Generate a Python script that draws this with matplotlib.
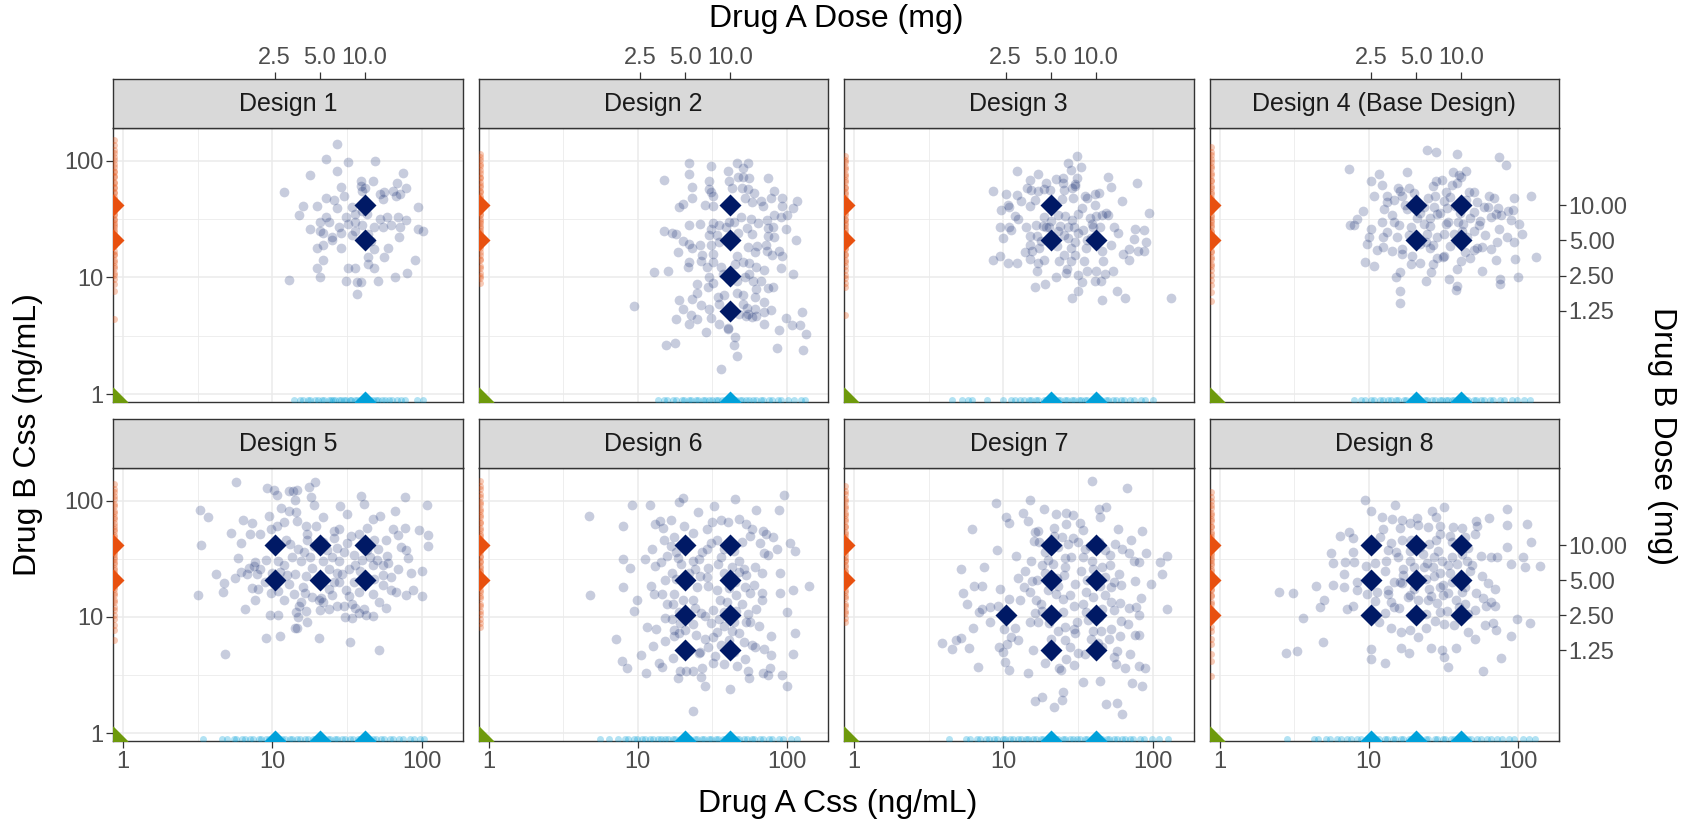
import matplotlib
matplotlib.use("Agg")
import matplotlib.pyplot as plt
from matplotlib.ticker import NullLocator, NullFormatter

plt.rcParams['font.family'] = ['Liberation Sans', 'DejaVu Sans']

designs = ["Design 1", "Design 2", "Design 3", "Design 4 (Base Design)",
           "Design 5", "Design 6", "Design 7", "Design 8"]
css_per_mg = 4.15   # Css (ng/mL) per mg dose (secondary axes)

# combination arms (Drug A mg, Drug B mg)
combo_doses = [
    [(10, 10), (10, 5)],
    [(10, 10), (10, 5), (10, 2.5), (10, 1.25)],
    [(5, 10), (5, 5), (10, 5)],
    [(5, 10), (10, 10), (5, 5), (10, 5)],
    [(2.5, 10), (5, 10), (10, 10), (2.5, 5), (5, 5), (10, 5)],
    [(5, 10), (10, 10), (5, 5), (10, 5), (5, 2.5), (10, 2.5), (5, 1.25), (10, 1.25)],
    [(5, 10), (10, 10), (5, 5), (10, 5), (2.5, 2.5), (5, 2.5), (10, 2.5), (5, 1.25), (10, 1.25)],
    [(2.5, 10), (5, 10), (10, 10), (2.5, 5), (5, 5), (10, 5), (2.5, 2.5), (5, 2.5), (10, 2.5)],
]
mono_a_doses = [[10], [10], [5, 10], [5, 10], [2.5, 5, 10], [5, 10], [5, 10], [2.5, 5, 10]]
mono_b_doses = [[5, 10], [5, 10], [5, 10], [5, 10], [5, 10], [5, 10], [5, 10], [2.5, 5, 10]]

top_dose_ticks = [2.5, 5.0, 10.0]
top_dose_labels = ["2.5", "5.0", "10.0"]
right_dose_ticks = [10.0, 5.0, 2.5, 1.25]
right_dose_labels = ["10.00", "5.00", "2.50", "1.25"]
css_ticks = [1, 10, 100]
css_labels = ["1", "10", "100"]

# observed combination Css (Drug A, Drug B) ng/mL
d1_pts = [(27,139),(23,103),(32,97),(49,99),(27,82),(18,75),(75,78),(39,67),(47,67),(68,65),(29,60),(42,59),(40,55),(56,54),(64,55),(79,59),(12,54),(23,48),(26,46),(30,50),(53,52),(67,50),(20,41),(16,41),(27,39),(34,40),(94,40),(15,34),(23,33),(31,33),(36,35),(43,35),(53,32),(59,33),(69,33),(79,31),(24,30),(21,30),(28,27),(18,26),(21,25),(22,24),(25,22),(29,24),(34,23),(40,28),(48,27),(55,27),(62,28),(72,27),(94,26),(103,25),(71,22),(25,21),(29,18),(22,19),(20,18),(48,17.5),(60,18),(56,15),(44,15),(22,14),(44,13),(91,14),(20,12),(32,12),(36,12),(48,12),(80,11),(21,10),(66,10),(13,9.5),(31,9.3),(37,9.2),(39,9.1),(51,9.4),(37,7.2),(40,37),(36,30),(44,23.5),(36,25),(32,28.5),(46,20.6),(55,47),(72,52),(39,61)]
d2_pts = [(22,95),(31,90),(46,96),(55,95),(51,86),(40,81),(22,77),(15,68),(30,67),(41,67),(47,73),(51,72),(56,71),(74,71),(23,60),(30,57),(31,54),(43,58),(50,59),(55,57),(60,53),(82,55),(23,48),(32,50),(52,48),(58,44),(67,45),(78,48),(92,48),(116,45),(20,43),(19,40),(28,42),(32,41),(69,41),(93,41),(109,39),(100,34),(82,34),(91,33),(73,31),(49,33),(57,32),(64,29),(54,26.5),(44,30),(32,29),(35,28),(39,27),(41,30),(22,28),(26,28.5),(31,26),(15,25),(17,24),(18,23.5),(30,23),(34,23),(47,24),(58,23.5),(74,26.5),(81,27),(99,26),(115,21),(75,22.6),(82,22),(20,20.5),(22,19.4),(23,18),(26,19),(31,19),(35,20),(55,18.3),(63,18.6),(61,16.4),(72,19),(73,17),(88,17),(93,15.4),(79,15.6),(18.5,16.4),(27,15.6),(32,16),(46,15.4),(51,13.5),(56,13.2),(62,12.2),(91,12),(70,11.6),(22,13.6),(21.6,12.2),(26.5,13.9),(29,12.3),(32,13.6),(36,12.3),(45,13),(12.9,11.2),(16,11.3),(30,10),(32,9),(29.5,8.2),(37,10.7),(41,9.7),(46,9.4),(52,10),(56,10.7),(59,9.4),(67,9.4),(62,7.9),(74,8.1),(80,8.2),(110,10.8),(25,8.8),(25,7.3),(23,6.5),(19,6.4),(26.5,5.8),(30,5.35),(34.5,6.75),(35,5.9),(38,7),(46,7.4),(51,7),(61,6.75),(70,6.2),(78,5.25),(61,5.35),(55,4.85),(62,4.7),(70,5.1),(51,5.9),(54,5.5),(9.5,5.7),(20,5.4),(22.7,4.75),(25,4.4),(31,4.5),(35,4),(40,3.7),(45,3.1),(44,2.66),(46,2.14),(58,4.6),(70,4),(88,3.55),(99,4.5),(108,3.9),(122,3.9),(126,5.1),(133,3.25),(128,2.4),(86,2.46),(18,4.4),(22,4),(28.6,3.38),(17.8,2.73),(15.5,2.65),(36,1.65),(40,3.6),(53,4.7),(48,4.85)]
d3_pts = [(31,109),(27,95),(28.5,83),(33,89),(12.3,82),(17,77),(15,69),(22.5,70),(25,71),(25,65),(31,71),(19.4,65),(30,63),(50,73),(79,65),(53,60),(8.5,55),(10.5,52),(12.3,51),(14.4,58),(15.4,56),(17,55),(18.6,57),(20.6,56),(25.6,56),(29,59),(30,61),(35,49.5),(36.5,48),(41,51.5),(43.5,52.5),(62,45),(13.2,45.5),(16.3,46),(24.7,47.4),(29.5,48),(33.5,39),(41,42),(10.8,42),(9.6,38),(10.9,40.5),(15,40.7),(12,33.5),(12.6,31.6),(18.8,33),(23.4,34),(26,33.8),(29,31),(38,32.5),(41.7,33.8),(46,34.4),(49,36),(50.6,34.4),(94,35.8),(9.5,27.3),(10.9,27.3),(11.3,25.7),(14.3,27.3),(16.6,28.2),(18.4,27.5),(19.3,27.1),(24,27.6),(27.3,27.3),(29.8,27.3),(34,25.7),(39.5,28.6),(40,26.8),(44.5,27.3),(55,27.3),(59,23.8),(76.5,26.2),(87,25.4),(9.9,21.6),(15.1,22.8),(15.2,18.9),(16.7,22.5),(17.8,20.5),(25.6,23.2),(27,21.7),(30,20.2),(31.8,23.8),(36.2,21),(38.8,21.6),(53,19.1),(75,21.3),(91,20),(13.9,16.6),(15.6,16.9),(17.4,17.8),(23,18.7),(25.5,15.6),(28.6,18),(35.7,18),(45.8,16.9),(63,15.9),(69.5,17.6),(79.5,16.7),(87.5,16.7),(8.5,14),(9.5,15.3),(10.8,13.2),(12.3,13.2),(15.1,14.5),(17.1,13.3),(18.6,14.1),(23.5,13.7),(26.8,11.8),(28.3,13.7),(30,15.7),(34.8,13.9),(36.5,11.3),(42,11.4),(46.3,13.7),(48,10.7),(54.5,11.3),(70,14.1),(16.7,11.4),(22.5,10),(26.5,10.9),(31.8,10.5),(33.5,9.2),(41,9.4),(45,9.4),(16.2,8.3),(19,8.7),(31.8,7.7),(29,6.6),(46,6.4),(57.5,7.6),(65.5,6.7),(133,6.6),(21,30.5),(23.3,25),(31.8,34.9),(20.2,26.8)]
d4_pts = [(24.7,123),(28,118),(39,115),(75,107),(83,92),(7.4,85),(11.7,77),(18,80),(36.7,80),(40,76),(44.6,82),(41.7,73),(10.3,67),(12.3,62),(15.7,58),(16.1,55),(28,67),(26.8,61),(31,68),(39,65),(10.8,49.5),(13.2,50),(16.6,49.5),(20,53),(24.8,48),(27.8,50),(33,53.5),(35,48.5),(46.8,54),(51,54.5),(64,49.5),(69,48),(93.5,48),(122,50),(9.2,37),(8.4,31.6),(7.5,28),(7.9,28.2),(12.7,38.5),(13.2,44),(14.3,34),(12.2,30),(14.8,30),(16,28),(10.4,26),(10,22),(9.8,19.5),(12.5,22),(13.2,24.3),(11.3,17.3),(12.5,18.4),(14.3,16.7),(16.8,15.9),(16.6,17.4),(18.5,23),(19.3,26.8),(23.3,28.7),(25.8,27.5),(28.6,34.9),(32.7,28.7),(39.3,30),(40.6,35.4),(50.3,36.7),(54.5,28),(62.5,40),(73.5,39),(71,34.9),(76.5,34),(85,37.3),(93,38),(102,28.7),(107,23.5),(84.5,22),(75,25.8),(72,20),(94,20.2),(65.5,17.5),(57,18.3),(53,17.8),(51,17.3),(47.3,14.8),(41.5,13.9),(39,11.8),(31.2,15.1),(31.8,15.4),(28.6,14.8),(25.8,17.9),(24,20),(22,19.3),(19.5,15.4),(22.2,13.2),(19.1,13),(16.2,11.2),(15.2,10.1),(26.2,11.1),(24,9.4),(34.2,9.6),(38.2,7.8),(38.7,8.5),(57.7,11.4),(76,9.7),(76,8.7),(100,10),(132,15.1),(95,14.3),(71.5,14.1),(9.5,13.5),(10.9,12.5),(16.1,7.6),(16.1,6),(30,35.4),(33.5,39.4),(25.8,32.6),(21,32.6),(31.8,23.5),(37,23.5),(45.8,22),(50.7,25),(24.5,23.5),(28.6,22),(15.4,22),(56,30.6),(48,32.6),(43,28.7),(23.3,40),(17.9,38.5),(27.3,40.4),(38,41.2),(59,40),(53,44),(31.8,45.3),(18.5,58),(17.5,42),(36,62),(34,30),(42,25),(35,18.5),(44,16.5),(27,19),(20.5,21),(14.8,46),(66,33),(60,23),(89,31),(27,13),(45,46),(22,36)]
d5_pts = [(5.7,145),(9.2,128),(10.3,123),(10.8,111),(12.9,122),(13.8,120),(14.7,123),(14.1,102),(17.6,132),(19.3,145),(18.2,108),(19,92),(39.4,110),(41,94),(77,108),(108,92),(3.3,83),(3.7,72.5),(6.4,68.5),(7.3,64),(9.5,73.5),(11.5,87),(12.9,82),(14.5,79.5),(28.6,90),(31.5,76.5),(66.7,81),(5.3,52.8),(6.2,43.6),(7.1,51.5),(8.3,51.5),(9.8,57),(10.8,60.5),(12,65.7),(14.7,66.5),(16.8,61),(19.7,61),(21.7,72.5),(26,54.5),(28,57),(47,69.5),(52.6,73.5),(64.6,57.5),(70,50.7),(77.7,58.3),(95.5,56),(110,50.5),(3.35,41.6),(5.9,31.8),(6.8,23.4),(7.5,27.3),(7.7,29.5),(8.3,25.7),(9.1,30.8),(11,30.5),(12.3,46.3),(13.6,32.6),(14.8,38.3),(16.2,36),(31.8,43.6),(35.2,34),(43.3,37.3),(51.4,38),(58.5,33.5),(72.5,40),(78.5,37.8),(81,32.2),(110,40.6),(4.2,23.2),(4.75,19.7),(5.6,21.8),(6.2,24.3),(7,26.2),(7.9,23.5),(11.2,24.3),(12.5,22.9),(14.2,23.5),(16.8,22.6),(18.5,26.5),(23.9,25.7),(27,24),(29.5,23.5),(32.7,26),(38.8,24.6),(47.3,28),(55.5,27.7),(55,23),(100,24.8),(3.2,15.3),(4.7,16.3),(7.3,17.7),(8,17.3),(9.8,16.1),(11,16.8),(12,14.1),(13.9,15.6),(15.6,13.4),(16.6,16),(18.5,14.8),(21.3,14.4),(23.9,11.7),(25.3,15.4),(30,12.3),(32.7,15),(34.2,13),(38.2,10.9),(41.1,11.6),(47,15.8),(55.5,18.7),(62,17.1),(67.7,16.4),(78.5,15.3),(87.5,17.2),(100,15),(6.6,11.6),(7.7,13.9),(9.6,10.3),(11,10.3),(14.5,11),(14.9,9.9),(16.9,11.2),(17.2,9.1),(14.1,8.1),(14.7,8.1),(20.4,13.9),(21.8,13.4),(30.5,10),(34.3,9.7),(47.5,10.1),(42.6,10.3),(9.1,6.6),(11.2,6.8),(20.5,6.6),(33.2,6.1),(52,5.2),(4.85,4.8),(20,20.6),(25.8,20),(35.2,20),(13.2,42.5),(17.1,45.5),(33.5,50),(48,45.5),(23.3,37.3),(15.5,30),(18,33),(22,30),(25,33),(28,30),(30,36),(36,28),(40,31),(45,33),(50,31),(60,29),(22,44),(26,48),(38,52),(43,58),(17,52),(12,28),(10,24),(9,20),(13,19),(16,18),(24,17.5),(28,20),(31,17),(38,16.5),(42,19),(48,21),(62,22),(70,26),(85,24),(19,41),(27,39),(58,46),(15,12.5),(21,11.5),(27,12.5),(36,12),(52,13.5),(58,12)]
d6_pts = [(4.7,74),(9.2,91),(12,92),(18.8,98),(20,106),(25.4,79.5),(32.4,89.5),(45,103),(62,83),(95,112),(88,83),(7.9,60.5),(13,63),(14,66.5),(14.7,58),(16.8,67.5),(20.3,60),(23.3,52.8),(29,57),(31.5,66),(36.2,67.8),(40.3,65.8),(47.5,69.5),(53,62.5),(58.5,56.8),(69,55),(72.5,51.5),(80.5,49),(66,42.8),(56.5,49.2),(15,46),(17.4,49),(16.7,40.4),(12.5,38.5),(11.2,31.6),(7.9,31.4),(8.8,26.5),(13.1,27.3),(14.3,29.5),(15.7,33.5),(18.6,32.2),(23.3,30.5),(25.8,31.6),(29.1,38),(31,43),(34,46),(37.6,38.5),(47.3,30.5),(51.3,25.7),(61,27),(67.5,24),(70,35.3),(75,34.2),(86,38.5),(104,43),(113,36.8),(89.8,23.8),(140,18.5),(110,16.9),(90,16.1),(67.8,16),(60,18.9),(53,22.8),(47.8,24.4),(42.8,26.8),(34.4,28.6),(29.7,26.3),(26.3,22.4),(24.2,26),(19.6,28.6),(16.9,24),(15.1,20.9),(12.2,18.6),(12.8,15.6),(14.5,15.6),(17.6,15.7),(25.1,17.9),(29.6,18.6),(33.8,17),(40.9,17.6),(45.8,15.4),(56.8,16),(67.5,14),(62,11.6),(49.8,13),(45.5,11.3),(39.8,13.4),(35.3,14),(31.8,11.4),(26.5,10.7),(23.3,13.9),(20,14),(17.1,12.8),(15.8,12.8),(4.8,15.3),(7.9,18.2),(9.9,14),(9.4,11.3),(11.6,8.2),(13.2,7.9),(15.2,9.7),(17.4,7.7),(19.2,8.8),(20.8,7.7),(23.3,8.6),(28,10.2),(30.8,8.8),(33.8,7.4),(38,8.3),(42.8,7.5),(53,9.1),(56.8,9),(65,8.4),(78.5,6.9),(113,7.3),(100,11),(7.2,6.4),(12.6,5.6),(15.1,6.2),(17.4,6.8),(19,7.3),(24.5,7),(28,6.4),(29.7,5.5),(36.2,5.7),(51.8,6.1),(58.2,5.7),(70.5,5.3),(77.5,4.7),(61,5.5),(52.3,4.3),(46.3,3.8),(37.9,3.9),(31.8,4),(27.1,3.6),(23.5,3.45),(19.2,3.45),(17.2,4.4),(14.5,3.7),(10.5,4.7),(7.8,4.2),(8.5,3.6),(11.3,3.3),(13.9,4),(18.5,3),(21,3.4),(26.4,3.06),(28,2.56),(41.7,2.4),(54.6,3.45),(69,3.27),(75,3.16),(76.5,3.6),(92.5,3.14),(100,2.55),(109,4.8),(55.3,3),(23.6,1.54),(25.8,4.85),(31.8,6.7),(41,6.3),(48,7.2),(18,36),(21,45),(27,36),(36,33),(44,37),(50,44),(18,21),(22,24),(29,22),(38,24),(45,20),(52,18),(19,11),(24,12),(38,11),(55,10.5),(17,9.5),(35,9.5),(44,9),(26,5),(44,5),(33,4.6)]
d7_pts = [(39.5,148),(67,128),(9,95),(15.1,101),(18.8,85),(22.7,77),(26.5,78.5),(29.3,76),(10.4,72),(10.9,64.5),(13.5,78),(14.6,66.5),(22,58.5),(26.4,63),(32.8,63.8),(34,56),(44.7,72),(44,85),(48.8,89),(58.8,57),(84.6,55),(6.2,57.5),(16.2,54),(17.2,54.5),(24.8,48.5),(29.3,47.5),(22,50),(16,44.8),(17.4,44),(31.8,44.5),(38.1,40.4),(71.6,46),(56.3,42),(62.5,38),(69.4,35.6),(80.5,29.8),(74.7,30),(90.6,35.6),(113,29.8),(125,33.5),(9.1,37.6),(12.2,33.2),(18.2,28),(21.4,28.6),(25.8,32),(28.6,33),(34.4,32.6),(40,26),(45.5,26.8),(51.8,27.9),(60,23.5),(116,23.2),(97.5,19.3),(76.3,20.2),(61.5,18.7),(53,18),(44.3,18.5),(36.4,20.6),(30.2,19),(25.6,22.8),(23,21.6),(19,23.8),(16.9,20.6),(15.6,20.2),(13.9,24.6),(12.5,21.4),(13.8,18),(15,16.5),(16.5,14),(12.9,13.9),(11,14.3),(9.5,17.3),(9.2,12.3),(7.2,11.7),(6.9,11),(8.2,12.2),(6.4,18.6),(7.2,18.5),(5.2,26),(7.4,26.6),(5.4,16.2),(5.7,12.8),(22.4,15.8),(25.1,14.3),(23.3,18.3),(29.9,12.3),(34.1,12.8),(40,14.8),(45.5,11.8),(52.4,13.4),(60.3,13.2),(69.4,11.9),(77.7,12.2),(83.7,14.5),(80.5,10.3),(124,11.7),(18.3,11.2),(16.2,10.9),(15,9),(17.2,9),(20.2,8.8),(23.3,7.6),(25.8,8.2),(29.9,7.8),(31.3,9),(37.1,9.4),(40,7.6),(45.3,7.6),(52.4,7.8),(61,9.2),(68.7,8.7),(76.3,7),(81.5,7),(6.3,8.1),(8.2,9),(10.1,7.8),(12,8),(11.3,6.7),(12.6,6.3),(10.6,5.9),(9.4,5.5),(9.9,5),(3.9,6),(4.5,5.3),(4.8,6.3),(5.2,6.6),(5.9,5.35),(6.8,3.7),(10.2,4.1),(11,3.5),(14.6,3.3),(15.8,5.2),(19,4),(20.9,4.7),(23.5,3.6),(24.5,3.5),(26.5,4.3),(29.6,3.85),(35,4.8),(38.7,6.5),(43,6),(50.7,6.5),(60.3,6.8),(55.3,4.5),(57.2,3.9),(58,5.1),(65.5,3.6),(70.7,4.75),(81.5,3.8),(89.3,3.6),(34.4,2.77),(44.5,2.8),(73,2.7),(85.5,2.56),(16.4,1.88),(18.2,2.05),(25.1,2.26),(24.7,1.93),(21.8,1.68),(48.8,1.77),(57.6,1.8),(62,1.45),(25.8,6.3),(30.2,7.2),(31.8,4.85),(15.4,30.5),(23.3,40),(48,37.3),(39,30.5),(19,36),(27,42),(35,38),(44,44),(52,34),(20,31),(26,27),(33,25),(48,22),(55,20),(20,17),(28,15.5),(36,16.5),(48,15.5),(18,13),(25,11),(36,11),(44,10),(55,11.5),(21,6.5),(28,5.5),(46,5.5)]
d8_pts = [(9.4,101),(15,92),(10.4,82),(26.5,82),(32,88),(84.5,84.5),(12.2,72.5),(14.3,70),(16.8,67.5),(20.9,71.5),(28,72.5),(52.6,66.5),(63.5,71.5),(12.5,57),(16.1,58),(18.8,64.5),(21.5,62),(24.8,59.5),(30.2,60),(36.6,59.5),(42.2,58),(53.2,60),(84.5,62),(114,62.5),(6.4,49.5),(7.4,54),(7.8,48),(11.9,48.5),(14.1,43.3),(16.6,45.5),(19.3,46),(25.3,42.5),(30,52),(35.2,49.2),(51.3,52),(5.55,35.8),(5.8,28.8),(6.9,29.5),(7.85,36),(8,29.5),(9.6,27.3),(11,28.8),(13.1,30),(15.1,36),(18.8,36.6),(23,34.9),(24.5,29.2),(29,36.6),(33.9,28),(39,28.4),(45.5,30),(49.5,27.7),(56.8,33.5),(65.5,32.6),(72,32.6),(83.7,40),(90,28.7),(108,33),(111,27),(122,44),(141,27.5),(6.8,23.5),(8.3,20),(12.8,24.8),(14.8,20),(16.7,19.6),(23.6,26.8),(27.5,22.5),(31.6,18.7),(35.2,23.7),(42,21),(48,25),(57.5,22.3),(62.5,19.6),(2.5,16.3),(3.1,16),(4.45,18.5),(5.75,18.7),(6.8,18),(8.4,16.9),(9.8,15.8),(11.4,16.4),(13.5,16.9),(16.1,19.8),(20.2,17.3),(25.3,17.5),(29.9,18),(31.6,15.4),(38.6,14),(44.3,13),(58.2,14.4),(66,13.5),(70.5,17.4),(5,13.9),(4.7,12.2),(7.2,11.6),(7.85,12.3),(11,13.6),(12.8,10.7),(14.1,13.4),(16,12),(18.2,14.8),(21.5,13.9),(28.6,13.2),(33.5,11.3),(40,12.2),(51.5,11.4),(60.6,12.3),(69.8,12.4),(3.6,9.8),(11.7,9),(14.1,8),(16.4,7.4),(18.8,7.7),(21.5,6.7),(24.2,8),(27.6,9.2),(32,8.65),(37,8.5),(46.1,7.4),(51.5,6.4),(59.6,8.5),(68.3,8.9),(71.4,7.7),(99,9.6),(120,8.9),(90.2,6.9),(4.9,6.1),(2.8,4.85),(3.3,5.1),(10.3,5.3),(16.4,5.45),(18.7,4.85),(26.2,5.35),(30.8,5.2),(31.8,4.5),(33.9,3.7),(38.6,5.4),(10.4,4.3),(12.9,4),(58.5,3.4),(76.5,4.45),(13.4,37.3),(15.6,32.6),(20.2,26.8),(27.5,32.6),(14.8,12.2),(20.2,10.7),(13.4,15.8),(20.2,20.6),(24.8,13.9),(17,26),(19,30),(27,27),(31,30),(36,33),(42,35),(46,39),(22,40),(28,46),(36,44),(44,49),(17,23),(24,21),(30,24),(36,20),(44,18),(52,16),(19,15.5),(26,15),(34,16),(42,16.5),(24,10.5),(30,11),(46,10.5)]
combo_pts = [d1_pts, d2_pts, d3_pts, d4_pts, d5_pts, d6_pts, d7_pts, d8_pts]

# Drug B monotherapy Css (drawn as rug at the left edge)
rug_b = [
    [150,137,124,117,107,101,93,89,82,80,74,72,66,65,60,58,54,53,49,47,44,43,40,39,37,35,34,32,31,29.5,28,27,25.5,24.5,23,22.5,21,20.5,19,18.5,17,16,15.5,14,13.5,12.5,12,11,10.5,9.6,8.8,7.6,4.4],
    [115,107,101,94,90,83,79,73,71,66,62,60,55,54,50,48,45,44,41,39.5,37,35,34,32,30.5,29,27.5,26.5,25,24,22.5,22,20.5,20,18.5,18,16.5,15.5,14.5,14,12.5,12,11,10.3,9.8,9],
    [110,101,97,89,85,77,74,68,66,60,58,54,52,48,46,43,42,39,38,35.5,34,32,31,29,28,26.5,25.5,24,23.5,22,21.5,20,19.5,18,17.5,16,15.5,14,13.5,12.5,11.5,10.5,9.8,9,8.2,4.8],
    [130,118,113,103,98,90,86,79,76,69,67,61,59,54,52,48,46,43,41,38.5,37,34.5,33,31,30,28,27,25,24.5,23,22.5,21,20.5,19,18.5,17,16.5,15,14.5,13,12.5,11.5,10.5,9.5,8.6,7.5,6.3],
    [139,127,119,109,103,94,90,82,79,72,69,64,61,57,55,51,49,45,43.5,40.5,39,36.5,35,32.5,31.5,29.5,28.5,26.5,25.5,24,23.5,22,21.5,20,19.5,18,17.5,16,15.5,14,13.5,12.2,11.5,10.3,9.6,8.5,7.7,6.3],
    [148,134,125,113,107,98,93,85,82,75,72,66,64,58,56,52,50,46.5,44.5,41.5,40,37.5,36,33.5,32.5,30.5,29.5,27.5,26.5,25,24.5,23,22.5,21,20.5,19,18.5,17,16.5,15,14.5,13,12.5,11.2,10.5,9.5,8.8,8.2],
    [134,122,114,104,99,90,86,79,76,69,67,61,59,54,52,48.5,46,43,41,38.5,37,34.5,33,31,30,28,27,25,24.5,23,22.5,21,20.5,19,18.5,17,16.5,15,14.5,13,12.5,11.3,10.7,9.8,9],
    [118,107,100,91,87,79,76,69,67,61,59,54,52,48.5,46,43.5,42,39.5,38,35.5,34,32,31,29,28,26,25,23.5,23,21.5,21,19.5,19,17.5,17,15.5,15,13.5,13,11.8,11,9.9,9.3,8.2,7.5,6.4,5.8,4.8,4.2,3.1],
]
# Drug A monotherapy Css (drawn as rug at the bottom edge)
rug_a = [
    [14,15.4,16.1,17.3,17.9,19.3,20.1,21.6,22.2,23.8,24.6,25.7,26.5,28.1,28.8,30.4,31.2,33,33.8,35.7,36.8,38.9,39.7,42,43.2,45.3,47.2,49.6,51,54.4,56.6,60.5,63.2,68.5,72.4,78,93,103],
    [13.6,14.9,15.8,17.2,18,19.7,20.3,22,22.8,24.7,25.5,27.3,28.2,30.2,31.2,33.3,34.6,36.8,38.1,40.5,41.7,44.3,45.6,48.4,50,53.3,55.4,59.2,61.6,66.4,69.3,75.5,79.2,87,91.6,101,112,124,132],
    [4.5,5.3,5.8,6.2,7.8,9.9,11.3,11.9,13,13.7,14.8,15.4,16.6,17.2,18.7,19.3,20.9,21.6,23.3,24.1,26,26.8,28.9,29.8,32,33,35.4,36.6,39.3,40.6,43.6,45.1,48.5,50.6,54.4,56.5,61.3,64.4,70.2,75.5,83.6,89.5,100],
    [7.9,8.9,9.5,10.4,10.9,11.9,12.5,13.5,14.1,15.2,15.8,17.1,17.8,19.2,19.8,21.4,22.2,23.9,24.7,26.7,27.7,29.8,30.7,32.9,33.7,36.3,37.5,40.4,41.6,44.8,46.5,50.3,52.6,56.6,59.1,64.7,68.2,75.6,81,90.6,99,110,121],
    [3.45,4.6,4.95,5.5,5.75,6.3,6.55,7.1,7.4,8.1,8.4,9.1,9.5,10.3,10.7,11.6,12.1,13.1,13.6,14.7,15.3,16.6,17.3,18.7,19.4,21,21.8,23.5,24.4,26.3,27.2,29.4,30.6,33.1,34.5,37.3,38.9,42.2,43.9,47.6,49.8,53.7,56.4,61.5,64.4,70.8,75,83.2,88.7,97,104],
    [5.6,6.4,7.4,8.2,8.6,9.4,9.9,10.7,11.2,12.1,12.6,13.6,14.2,15.3,15.9,17.2,17.8,19.2,19.9,21.5,22.3,24.1,24.8,26.8,27.8,30,31,33.3,34.3,37,38.3,41.1,42.6,46,47.7,51.5,53.5,58,60.3,65.7,68.5,75.2,79.6,88.4,94,106,116],
    [4.35,5.6,6,6.7,7,7.7,8,8.7,9.1,9.9,10.3,11.1,11.6,12.6,13.1,14.2,14.7,15.9,16.5,17.8,18.5,20,20.7,22.4,23.2,25.1,26,28.1,29.1,31.4,32.5,35.1,36.3,39.2,40.6,43.9,45.6,49.3,51.2,55.4,57.6,62.4,65.2,71,74.2,82,88,99,110,127],
    [2.85,4.3,4.6,5.2,5.5,6.1,6.5,7.2,7.6,8.4,8.9,9.8,10.1,11.2,11.7,12.8,13.3,14.5,15,16.4,17,18.6,19.3,21.1,22,24.2,25.1,27.6,28.6,31.3,32.4,35.6,37,40.6,42.4,46.5,48.6,53.4,56.2,62,65.4,72.6,77.5,87,94,108,119,130],
]

NAVY = '#001965'
ORANGE = '#E8500F'
BLUE = '#00A1DA'
GREEN = '#6E9A0C'
GRID = '#EBEBEB'
EDGE = '#333333'
TICKC = '#4D4D4D'

W, H = 1692, 819
fig = plt.figure(figsize=(W / 100, H / 100), dpi=100)
col_left = [113, 478.5, 844, 1209.5]
pw = 349.5
rows = [(79, 128, 402), (419, 468, 741)]   # strip top, panel top, panel bottom (px)
XL = (0.857, 188)
YL = (0.855, 191)
TS = 17

for i in range(8):
    r, c = divmod(i, 4)
    st, ptop, pbot = rows[r]
    x0 = col_left[c] / W
    ax = fig.add_axes([x0, 1 - pbot / H, pw / W, (pbot - ptop) / H])
    sax = fig.add_axes([x0, 1 - ptop / H, pw / W, (ptop - st) / H])

    ax.set_xscale('log'); ax.set_yscale('log')
    ax.set_xlim(*XL); ax.set_ylim(*YL)
    ax.set_xticks(css_ticks, css_labels)
    ax.set_yticks(css_ticks, css_labels)
    ax.set_xticks([3.162, 31.62], minor=True)
    ax.set_yticks([3.162, 31.62], minor=True)
    ax.xaxis.set_minor_formatter(NullFormatter())
    ax.yaxis.set_minor_formatter(NullFormatter())
    ax.grid(True, which='major', color=GRID, lw=1.1)
    ax.grid(True, which='minor', color=GRID, lw=0.6)
    ax.set_axisbelow(True)
    ax.tick_params(which='minor', length=0)
    ax.tick_params(which='major', length=5, width=0.9, color=EDGE,
                   labelsize=TS, labelcolor=TICKC, pad=2)
    if r == 0:
        ax.tick_params(axis='x', which='major', length=0, labelbottom=False)
    if c > 0:
        ax.tick_params(axis='y', which='major', length=0, labelleft=False)
    for s in ax.spines.values():
        s.set_color(EDGE); s.set_linewidth(1.0)

    pts = combo_pts[i]
    ax.plot([p[0] for p in pts], [p[1] for p in pts], 'o', ms=7.0, color=NAVY,
            alpha=0.22, mec='none', zorder=3)
    # monotherapy rugs
    ax.plot([XL[0] * 1.022] * len(rug_b[i]), rug_b[i], 'o', ms=5.0, color=ORANGE,
            alpha=0.3, mec='none', zorder=3)
    ax.plot(rug_a[i], [YL[0] * 1.035] * len(rug_a[i]), 'o', ms=5.0, color=BLUE,
            alpha=0.3, mec='none', zorder=3)
    # design points
    cd = combo_doses[i]
    ax.plot([css_per_mg * a for a, b in cd], [css_per_mg * b for a, b in cd], 'D',
            ms=11.0, color=NAVY, mec='none', zorder=4)
    ax.plot([XL[0]] * len(mono_b_doses[i]), [css_per_mg * b for b in mono_b_doses[i]], 'D',
            ms=11.5, color=ORANGE, mec='none', zorder=4)
    ax.plot([css_per_mg * a for a in mono_a_doses[i]], [YL[0]] * len(mono_a_doses[i]), 'D',
            ms=11.5, color=BLUE, mec='none', zorder=4)
    ax.plot([XL[0]], [YL[0]], 'D', ms=15.5, color=GREEN, mec='none', zorder=4)

    if c == 3:
        sec = ax.secondary_yaxis('right', functions=(lambda y: y / css_per_mg,
                                                     lambda d: d * css_per_mg))
        sec.set_yticks(right_dose_ticks, right_dose_labels)
        sec.yaxis.set_minor_locator(NullLocator())
        sec.tick_params(length=5, width=0.9, color=EDGE, labelsize=TS,
                        labelcolor=TICKC, pad=2)
        sec.spines['right'].set_color(EDGE)

    # strip
    sax.set_xscale('log'); sax.set_xlim(*XL)
    sax.set_facecolor('#D9D9D9')
    sax.set_yticks([])
    sax.xaxis.set_minor_locator(NullLocator())
    if r == 0:
        sax.xaxis.tick_top()
        sax.set_xticks([css_per_mg * d for d in top_dose_ticks], top_dose_labels)
        sax.xaxis.set_minor_locator(NullLocator())
        sax.tick_params(axis='x', length=5, width=0.9, color=EDGE, labelsize=TS,
                        labelcolor=TICKC, pad=2)
    else:
        sax.set_xticks([])
    for s in sax.spines.values():
        s.set_color(EDGE); s.set_linewidth(1.0)
    sax.text(0.5, 0.5, designs[i], transform=sax.transAxes, ha='center', va='center',
             fontsize=18, color='#1A1A1A')

fig.text(836 / W, 1 - 19 / H, 'Drug A Dose (mg)', ha='center', va='center', fontsize=23)
fig.text(838 / W, 1 - 804 / H, 'Drug A Css (ng/mL)', ha='center', va='center', fontsize=23)
fig.text(28 / W, 1 - 435 / H, 'Drug B Css (ng/mL)', ha='center', va='center',
         rotation=90, fontsize=23)
fig.text(1662 / W, 1 - 436 / H, 'Drug B Dose (mg)', ha='center', va='center',
         rotation=270, fontsize=23)

fig.savefig('out.png', dpi=100)
